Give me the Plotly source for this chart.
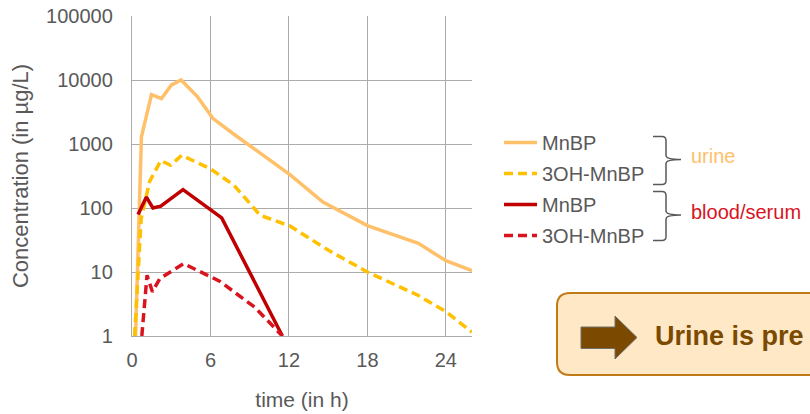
import plotly.graph_objects as go

# ---- data ----
t_urine_mnbp = [0.27, 0.72, 1.49, 2.25, 3.0, 3.75, 5.0, 6.2, 7.9, 12.1, 14.6, 18.0, 21.9, 24.0, 26.0]
urine_mnbp = [1, 1290, 5900, 5100, 8300, 10000, 5500, 2500, 1370, 330, 124, 53, 28, 15, 10.5]

t_urine_3oh = [0.2, 0.7, 1.35, 2.2, 2.95, 3.8, 6.0, 7.8, 9.8, 12.1, 15.0, 18.0, 21.9, 24.0, 26.0]
urine_3oh = [1, 68, 260, 550, 465, 665, 410, 226, 77, 52, 22, 10, 4.3, 2.4, 1.15]

t_blood_mnbp = [0.46, 1.1, 1.6, 2.2, 3.9, 6.86, 11.5]
blood_mnbp = [79, 148, 100, 107, 194, 70, 1]

t_blood_3oh = [0.75, 1.15, 1.56, 2.13, 3.95, 6.7, 9.4, 11.5]
blood_3oh = [1, 8.9, 4.9, 7.9, 13.5, 7.2, 2.8, 1]

x_ticks = [0, 6, 12, 18, 24]
y_ticks = [1, 10, 100, 1000, 10000, 100000]
y_tick_labels = ["1", "10", "100", "1000", "10000", "100000"]

FONT = "Liberation Sans, Arial, sans-serif"
GRAY = "#595959"
GRID = "#ABABAB"

W, H = 810, 414
L, R, T, B = 132, 338, 16, 78
PW, PH = W - L - R, H - T - B


def px(x):
    return (x - L) / PW


def py(y):
    return (H - B - y) / PH


fig = go.Figure()
fig.add_trace(go.Scatter(x=t_urine_mnbp, y=urine_mnbp, mode="lines", name="MnBP",
                         legendgroup="a", line=dict(color="#FFC06A", width=3.5)))
fig.add_trace(go.Scatter(x=t_urine_3oh, y=urine_3oh, mode="lines", name="3OH-MnBP",
                         legendgroup="b", line=dict(color="#FFC000", width=3.5, dash="9px,5px")))
fig.add_trace(go.Scatter(x=t_blood_mnbp, y=blood_mnbp, mode="lines", name="MnBP",
                         legendgroup="c", line=dict(color="#C00000", width=3.5)))
fig.add_trace(go.Scatter(x=t_blood_3oh, y=blood_3oh, mode="lines", name="3OH-MnBP",
                         legendgroup="d", line=dict(color="#D9141E", width=3.5, dash="9px,5px")))

shapes = []


def brace(y_top, y_tip, y_bot):
    x0, x1, xt = 653, 666, 681
    r = 4
    pts = (f"M {px(x0)},{py(y_top)} L {px(x1 - r)},{py(y_top)} "
           f"Q {px(x1)},{py(y_top)} {px(x1)},{py(y_top + r)} "
           f"L {px(x1)},{py(y_tip - r)} Q {px(x1)},{py(y_tip)} {px(xt)},{py(y_tip)} "
           f"Q {px(x1)},{py(y_tip)} {px(x1)},{py(y_tip + r)} "
           f"L {px(x1)},{py(y_bot - r)} Q {px(x1)},{py(y_bot)} {px(x1 - r)},{py(y_bot)} "
           f"L {px(x0)},{py(y_bot)}")
    return dict(type="path", xref="paper", yref="paper", path=pts,
                line=dict(color=GRAY, width=1.5))


shapes.append(brace(136.5, 159.5, 184.5))
shapes.append(brace(191.5, 215, 240.5))

# rounded box
bx0, by0, bx1, by1, rr = 557, 293, 830, 375, 13
box = (f"M {px(bx0 + rr)},{py(by0)} L {px(bx1 - rr)},{py(by0)} "
       f"Q {px(bx1)},{py(by0)} {px(bx1)},{py(by0 + rr)} L {px(bx1)},{py(by1 - rr)} "
       f"Q {px(bx1)},{py(by1)} {px(bx1 - rr)},{py(by1)} L {px(bx0 + rr)},{py(by1)} "
       f"Q {px(bx0)},{py(by1)} {px(bx0)},{py(by1 - rr)} L {px(bx0)},{py(by0 + rr)} "
       f"Q {px(bx0)},{py(by0)} {px(bx0 + rr)},{py(by0)} Z")
shapes.append(dict(type="path", xref="paper", yref="paper", path=box,
                   fillcolor="#FFE8C6", line=dict(color="#C07A18", width=2)))

# arrow
arr = [(581, 327), (615, 327), (615, 316), (637, 337.5), (615, 359), (615, 348.5), (581, 348.5)]
apath = "M " + " L ".join(f"{px(a)},{py(b)}" for a, b in arr) + " Z"
shapes.append(dict(type="path", xref="paper", yref="paper", path=apath,
                   fillcolor="#7B4A00", line=dict(color="#6F6F6F", width=1)))

annotations = [
    dict(text="urine", x=px(689), y=py(156), xref="paper", yref="paper", xanchor="left",
         yanchor="middle", showarrow=False, font=dict(family=FONT, size=20, color="#FFC06A")),
    dict(text="blood/serum", x=px(689), y=py(212), xref="paper", yref="paper", xanchor="left",
         yanchor="middle", showarrow=False, font=dict(family=FONT, size=20, color="#D9141E")),
    dict(text="<b>Urine is pre</b>", x=px(653), y=py(336), xref="paper", yref="paper",
         xanchor="left", yanchor="middle", showarrow=False,
         font=dict(family=FONT, size=27, color="#7B4A00")),
]

fig.update_layout(
    width=W, height=H,
    margin=dict(l=L, r=R, t=T, b=B, pad=0, autoexpand=False),
    paper_bgcolor="white", plot_bgcolor="white",
    font=dict(family=FONT, color=GRAY, size=20),
    showlegend=True,
    legend=dict(x=px(499), y=py(123), xanchor="left", yanchor="top",
                font=dict(family=FONT, size=20, color=GRAY),
                tracegroupgap=2, itemwidth=33, bgcolor="rgba(0,0,0,0)",
                traceorder="grouped"),
    xaxis=dict(range=[0, 26], tickvals=x_ticks, showgrid=True, gridcolor=GRID, gridwidth=1.3,
               showline=True, linecolor=GRID, linewidth=1.3, zeroline=False, automargin=False,
               tickfont=dict(size=20, color=GRAY), ticks="", ticklabelstandoff=6,
               title=dict(text="time (in h)", font=dict(size=21, color=GRAY), standoff=22)),
    yaxis=dict(type="log", range=[0, 5], tickvals=y_ticks, ticktext=y_tick_labels,
               showgrid=True, gridcolor=GRID, gridwidth=1.3, automargin=False,
               showline=True, linecolor=GRID, linewidth=1.3, zeroline=False,
               tickfont=dict(size=20, color=GRAY), ticks="", ticklabelstandoff=14,
               title=dict(text="Concentration (in µg/L)", font=dict(size=22, color=GRAY), standoff=11)),
    shapes=shapes,
    annotations=annotations,
)

fig.write_html("out.html", config={"displayModeBar": False},
               post_script="document.body.style.margin='0';document.body.style.padding='0';")
